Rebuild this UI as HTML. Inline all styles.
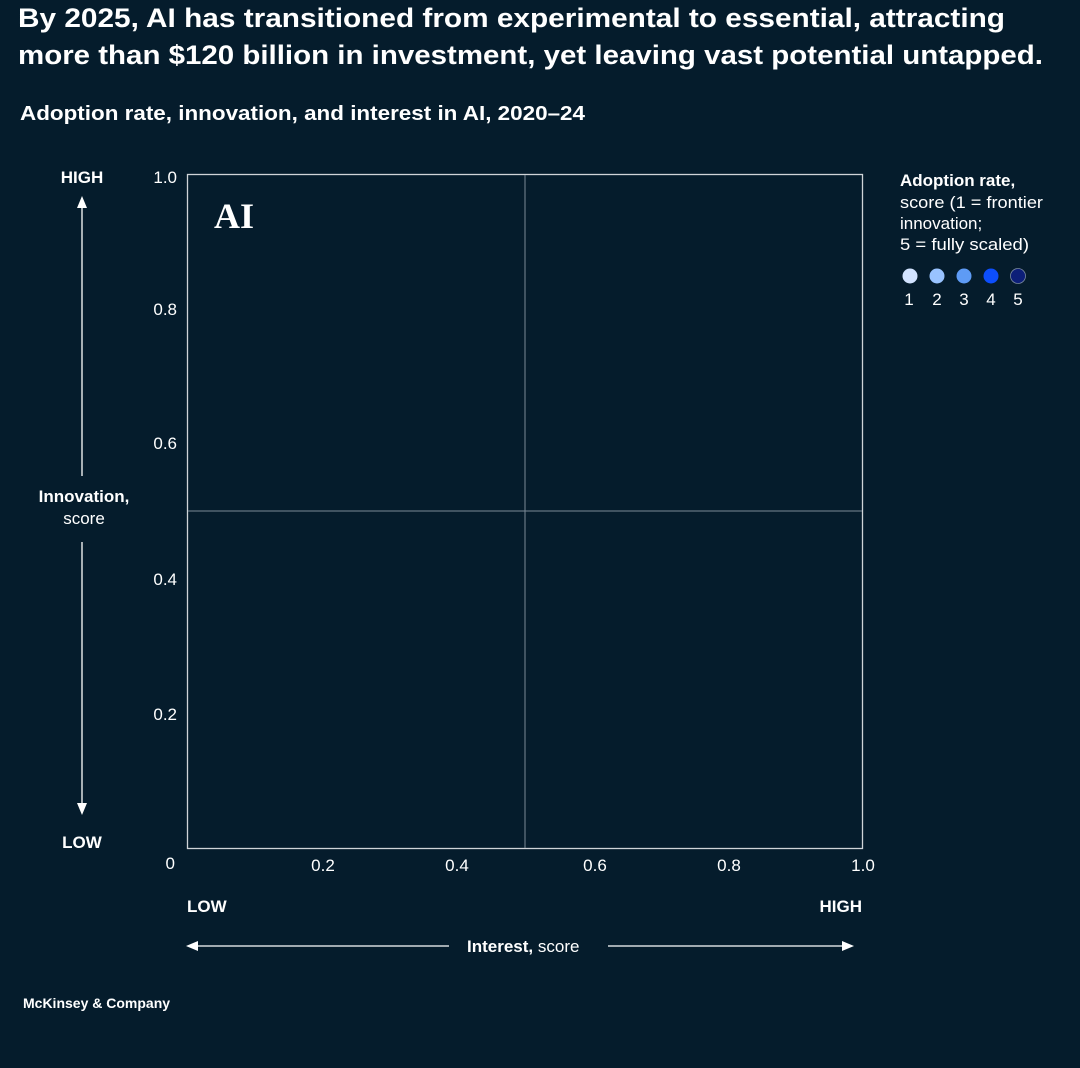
<!DOCTYPE html>
<html><head><meta charset="utf-8"><style>
html,body{margin:0;padding:0;background:#051c2c;}
svg{display:block;font-family:"Liberation Sans",Arial,sans-serif;}
</style></head><body>
<svg width="1080" height="1068" viewBox="0 0 1080 1068" xmlns="http://www.w3.org/2000/svg">
<rect width="1080" height="1068" fill="#051c2c"/>
<g fill="#fff">
<text x="18" y="27" font-size="27" font-weight="bold" textLength="987" lengthAdjust="spacingAndGlyphs">By 2025, AI has transitioned from experimental to essential, attracting</text>
<text x="18" y="64" font-size="27" font-weight="bold" textLength="1025" lengthAdjust="spacingAndGlyphs">more than $120 billion in investment, yet leaving vast potential untapped.</text>
<text x="20" y="120" font-size="20" font-weight="bold" textLength="565" lengthAdjust="spacingAndGlyphs">Adoption rate, innovation, and interest in AI, 2020–24</text>
</g>
<rect x="187.5" y="174.5" width="675" height="674" fill="none" stroke="#d0d4d8" stroke-width="1.3"/>
<line x1="525" y1="175" x2="525" y2="848" stroke="#7a8a96" stroke-width="1"/>
<line x1="188" y1="511" x2="862" y2="511" stroke="#7a8a96" stroke-width="1"/>
<text x="214" y="228" font-family="Liberation Serif,serif" font-size="36" font-weight="bold" fill="#fff">AI</text>
<g fill="#fff" font-size="17">
<text x="177" y="183" text-anchor="end">1.0</text>
<text x="177" y="315" text-anchor="end">0.8</text>
<text x="177" y="449" text-anchor="end">0.6</text>
<text x="177" y="585" text-anchor="end">0.4</text>
<text x="177" y="720" text-anchor="end">0.2</text>
<text x="175" y="869" text-anchor="end">0</text>
<text x="323" y="871" text-anchor="middle">0.2</text>
<text x="457" y="871" text-anchor="middle">0.4</text>
<text x="595" y="871" text-anchor="middle">0.6</text>
<text x="729" y="871" text-anchor="middle">0.8</text>
<text x="863" y="871" text-anchor="middle">1.0</text>
</g>
<g fill="#fff" font-size="17" font-weight="bold">
<text x="82" y="183" text-anchor="middle">HIGH</text>
<text x="82" y="848" text-anchor="middle">LOW</text>
<text x="84" y="502" text-anchor="middle">Innovation,</text>
<text x="187" y="912">LOW</text>
<text x="862" y="912" text-anchor="end">HIGH</text>
<text x="467" y="952">Interest,<tspan font-weight="normal"> score</tspan></text>
</g>
<text x="84" y="524" text-anchor="middle" fill="#fff" font-size="17">score</text>
<line x1="82" y1="205" x2="82" y2="476" stroke="#fff" stroke-width="1.3"/>
<line x1="82" y1="542" x2="82" y2="806" stroke="#fff" stroke-width="1.3"/>
<polygon points="82,196 77,208 87,208" fill="#fff"/>
<polygon points="82,815 77,803 87,803" fill="#fff"/>
<line x1="195" y1="946" x2="449" y2="946" stroke="#fff" stroke-width="1.3"/>
<line x1="608" y1="946" x2="845" y2="946" stroke="#fff" stroke-width="1.3"/>
<polygon points="186,946 198,941 198,951" fill="#fff"/>
<polygon points="854,946 842,941 842,951" fill="#fff"/>
<g fill="#fff" font-size="17">
<text x="900" y="186" font-weight="bold">Adoption rate,</text>
<text x="900" y="208" textLength="143" lengthAdjust="spacingAndGlyphs">score (1 = frontier</text>
<text x="900" y="229">innovation;</text>
<text x="900" y="250" textLength="129" lengthAdjust="spacingAndGlyphs">5 = fully scaled)</text>
</g>
<circle cx="910" cy="276" r="7.5" fill="#d2e3ff"/>
<circle cx="937" cy="276" r="7.5" fill="#99c3ff"/>
<circle cx="964" cy="276" r="7.5" fill="#5e9bf5"/>
<circle cx="991" cy="276" r="7.5" fill="#0d4efc"/>
<circle cx="1018" cy="276" r="7.5" fill="#0c1e78" stroke="#7a8aa0" stroke-width="0.8"/>
<g fill="#fff" font-size="17" text-anchor="middle">
<text x="909" y="305">1</text><text x="937" y="305">2</text><text x="964" y="305">3</text><text x="991" y="305">4</text><text x="1018" y="305">5</text>
</g>
<text x="23" y="1008" fill="#fff" font-size="14" font-weight="bold">McKinsey &amp; Company</text>
</svg>
</body></html>
